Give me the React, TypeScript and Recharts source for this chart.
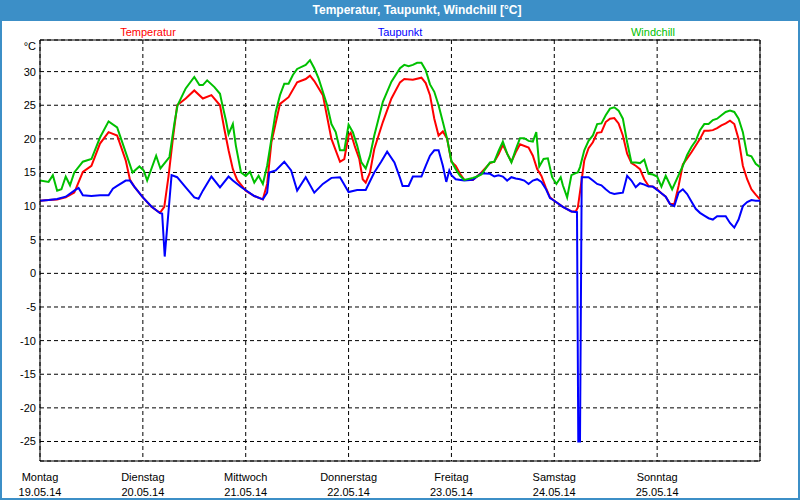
import { LineChart, Line, XAxis, YAxis, CartesianGrid, ReferenceLine } from 'recharts'

const FONT = '"Liberation Sans", Arial, sans-serif'
const FRAME = '#3c8fc7'

// hours since Monday 19.05.14 00:00
const dayHours = [0, 24, 48, 72, 96, 120, 144, 168]
const dayNames = ['Montag', 'Dienstag', 'Mittwoch', 'Donnerstag', 'Freitag', 'Samstag', 'Sonntag']
const dayDates = ['19.05.14', '20.05.14', '21.05.14', '22.05.14', '23.05.14', '24.05.14', '25.05.14']
const tempTicks = [-25, -20, -15, -10, -5, 0, 5, 10, 15, 20, 25, 30]
const yMin = -27.9
const yMax = 34.7

const tempHours = [0, 2, 4, 6, 8, 10, 12, 14, 16, 18, 20, 21, 22, 24, 26, 28, 29, 30, 31, 32, 34, 36, 38, 40, 42, 43, 44, 45, 46, 48, 50, 52, 53, 54, 56, 58, 60, 62, 63, 64, 66, 68, 70, 71, 72, 72.5, 73.5, 74.5, 75.3, 76, 77, 78, 80, 82, 84, 85, 87, 89, 90, 91, 92, 93, 94, 95, 96, 97, 98, 99, 101, 103, 105, 106, 107, 108, 109, 110, 111, 112, 114, 115, 116, 117, 118, 119, 120, 122, 124, 125, 125.5, 126.2, 127, 128, 129, 130, 131, 132, 133, 134, 135, 136, 137, 138, 139, 140, 141, 142, 143, 144, 145, 146, 147, 148, 149, 150, 151, 152, 153, 154, 155, 156, 157, 158, 159, 160, 161, 162, 163, 164, 165, 166, 167, 168]
const tempValues = [10.8, 10.9, 11.0, 11.3, 12.0, 15.1, 16.0, 19.3, 21.0, 20.5, 16.8, 13.9, 12.9, 11.3, 9.9, 9.0, 9.9, 14.5, 20.0, 25.0, 26.0, 27.2, 26.0, 26.5, 25.0, 21.5, 18.3, 15.5, 13.9, 12.3, 11.5, 11.0, 13.3, 19.5, 25.2, 26.2, 28.4, 28.9, 29.4, 28.6, 26.5, 20.0, 16.6, 17.0, 20.5, 20.9, 18.8, 17.0, 14.0, 13.5, 15.0, 18.5, 22.5, 26.0, 28.4, 28.9, 28.8, 29.1, 28.3, 26.5, 23.0, 20.5, 21.1, 20.0, 16.6, 16.0, 14.8, 13.9, 13.9, 15.0, 16.4, 16.6, 17.7, 19.1, 17.8, 16.6, 18.0, 19.2, 18.7, 17.5, 15.5, 14.5, 12.8, 11.3, 10.8, 9.9, 9.2, 9.2, 9.8, 13.0, 16.8, 18.6, 19.5, 20.9, 21.0, 22.5, 23.0, 23.1, 22.3, 20.5, 17.8, 16.4, 16.0, 15.5, 14.0, 13.0, 12.9, 12.5, 11.9, 11.4, 10.3, 10.3, 13.0, 16.2, 17.1, 18.0, 19.0, 20.0, 21.2, 21.2, 21.3, 21.6, 22.0, 22.3, 22.7, 22.2, 20.0, 16.0, 14.0, 12.5, 11.7, 11.0]

const dewHours = [0, 2, 4, 6, 8, 9, 10, 12, 14, 16, 17, 18, 20, 21, 22, 24, 26, 28, 28.5, 29.1, 30.7, 32, 34, 36, 37, 38, 40, 42, 44, 45, 47, 50, 52, 53, 53.5, 55, 57, 58.6, 60, 62, 64, 66, 68, 70, 72, 74, 76, 78, 79.6, 81, 82.7, 84, 84.6, 86, 87, 89, 90, 91, 92, 93, 94, 94.8, 95.5, 96, 97, 99, 101, 102, 103, 105, 106, 107, 108, 109, 110, 111, 112, 113, 114, 115, 116, 117, 118, 119, 120, 122, 124, 125.3, 125.6, 126, 126.4, 127, 128, 129, 130, 131, 132, 133, 134, 135, 136, 137, 138, 139, 140, 141, 142, 143, 144, 145, 146, 147, 148, 149, 150, 151, 152, 153, 154, 155, 156, 157, 158, 159, 160, 161, 162, 163, 164, 165, 166, 167, 168]
const dewValues = [10.8, 10.9, 11.05, 11.4, 12.3, 12.7, 11.6, 11.5, 11.6, 11.6, 12.6, 13.0, 13.8, 13.8, 12.9, 11.3, 9.95, 8.95, 8.9, 2.5, 14.6, 14.3, 12.8, 11.3, 11.1, 12.3, 14.4, 12.8, 14.4, 13.8, 12.8, 11.5, 11.0, 12.0, 15.0, 15.3, 16.6, 15.3, 12.3, 14.3, 12.0, 13.3, 14.2, 14.3, 12.1, 12.4, 12.4, 15.0, 16.6, 18.1, 16.5, 14.2, 13.0, 13.0, 14.4, 14.4, 16.0, 17.5, 18.3, 18.3, 16.0, 13.6, 15.3, 14.6, 14.0, 13.8, 13.9, 14.4, 14.9, 14.8, 14.4, 14.6, 14.4, 13.8, 14.3, 14.1, 14.0, 13.8, 13.3, 13.8, 14.0, 13.6, 12.6, 11.2, 10.8, 9.9, 9.2, 9.1, -25, -25, 14.3, 14.3, 14.3, 13.8, 13.3, 13.1, 12.5, 12.0, 11.8, 11.9, 12.0, 14.5, 13.8, 12.8, 13.4, 13.2, 12.9, 12.9, 12.4, 11.9, 11.4, 10.3, 10.0, 12.0, 12.5, 11.8, 10.7, 9.6, 9.0, 8.6, 8.2, 8.0, 8.5, 8.5, 8.5, 7.5, 6.8, 8.0, 10.0, 10.6, 10.9, 10.8, 10.8]

const chillHours = [0, 2, 3, 4, 5, 6, 7, 8, 10, 12, 14, 16, 18, 20, 21.6, 23.2, 24.2, 25, 27.1, 28.1, 30.2, 31.4, 32.1, 34, 36, 37.2, 38, 39, 40.7, 42, 42.4, 43.4, 44, 45, 45.7, 46.9, 48, 49, 50, 51, 52, 53, 54, 55, 56, 57, 58, 59, 60, 62, 63, 64, 65, 66, 67, 68, 69, 70, 71, 72, 73, 74, 75, 76, 77, 78, 80, 82, 84, 85, 86, 87, 88, 89, 90, 91, 92, 93, 94, 95, 96, 97, 98, 99, 101, 102, 103, 104, 105, 106, 107, 108, 109, 110, 111, 112, 113, 114, 115, 115.8, 116.5, 117.5, 118.5, 119.5, 120.5, 121.5, 122, 123, 124, 125, 125.5, 126, 127, 128, 129, 130, 131, 132, 133, 134, 135, 136, 137, 138, 139, 140, 141, 142, 143, 144, 145, 146, 147.5, 149, 150, 151, 152, 153, 154, 155, 156, 157, 158, 159, 160, 161, 162, 163, 164, 165, 166, 167, 168]
const chillValues = [13.8, 13.6, 14.6, 12.3, 12.5, 14.4, 13.1, 15.0, 16.6, 17.0, 20.2, 22.6, 21.7, 18.0, 15.0, 15.9, 15.3, 13.8, 17.5, 15.6, 17.3, 22.5, 25.0, 27.5, 29.2, 28.0, 28.0, 28.7, 27.7, 26.7, 25.5, 22.7, 20.7, 22.2, 19.0, 15.0, 14.5, 15.1, 13.5, 14.5, 13.3, 16.0, 20.0, 24.0, 26.5, 28.2, 28.2, 29.5, 30.4, 31.0, 31.7, 30.5, 29.0, 27.0, 25.0, 22.2, 21.0, 18.3, 18.3, 22.1, 21.0, 19.0, 16.5, 15.6, 17.5, 20.5, 25.5, 28.5, 30.5, 31.0, 30.8, 31.0, 31.3, 31.3, 30.2, 28.1, 27.0, 25.0, 22.5, 20.0, 16.7, 15.5, 14.5, 13.9, 14.2, 14.4, 14.7, 15.6, 16.5, 16.6, 18.2, 19.6, 17.8, 16.5, 18.4, 20.1, 20.1, 19.7, 19.6, 21.0, 15.9, 17.0, 17.1, 14.3, 13.3, 14.3, 13.1, 11.3, 14.6, 14.9, 15.0, 15.8, 18.3, 19.7, 20.5, 22.2, 22.3, 23.5, 24.5, 24.7, 24.2, 23.0, 19.5, 16.5, 16.5, 16.4, 16.9, 14.8, 14.7, 14.4, 12.9, 14.5, 12.5, 14.6, 16.0, 17.6, 18.8, 19.7, 21.3, 22.2, 22.2, 22.8, 23.0, 23.5, 24.0, 24.2, 24.0, 23.0, 21.0, 17.6, 17.4, 16.3, 15.8]

const zip = (hours: number[], values: number[]) => hours.map((t, i) => ({ t, v: values[i] }))
const tempData = zip(tempHours, tempValues)
const dewData = zip(dewHours, dewValues)
const chillData = zip(chillHours, chillValues)

function DayTick(props: any) {
  const { x, y, payload } = props
  const i = dayHours.indexOf(payload.value)
  if (i < 0 || i >= dayNames.length) return <g />
  return (
    <g>
      <text x={x} y={y + 18} textAnchor="middle" fontSize={11} fontFamily={FONT} fill="#000">{dayNames[i]}</text>
      <text x={x} y={y + 33} textAnchor="middle" fontSize={11} fontFamily={FONT} fill="#000">{dayDates[i]}</text>
    </g>
  )
}

const legendStyle = (color: string, center: number): React.CSSProperties => ({
  position: 'absolute',
  top: 25,
  left: center - 60,
  width: 120,
  textAlign: 'center',
  fontSize: 11,
  fontFamily: FONT,
  color,
  lineHeight: '14px',
})

export default function App() {
  return (
    <div style={{ position: 'fixed', top: 0, left: 0, width: 800, height: 500, background: '#fff', overflow: 'hidden' }}>
      <LineChart width={800} height={500} margin={{ top: 40, right: 40, bottom: 0, left: 0 }}>
        <CartesianGrid stroke="#000" strokeDasharray="4 3" />
        <XAxis
          type="number"
          dataKey="t"
          domain={[0, 168]}
          ticks={dayHours}
          tick={<DayTick />}
          tickLine={false}
          tickSize={0}
          axisLine={{ stroke: '#000' }}
          height={39}
          allowDataOverflow
        />
        <YAxis
          type="number"
          domain={[yMin, yMax]}
          ticks={tempTicks}
          width={40}
          tickLine={false}
          tickSize={0}
          tickMargin={4}
          axisLine={{ stroke: '#000' }}
          tick={{ fontSize: 11, fontFamily: FONT, fill: '#000' }}
          allowDataOverflow
        />
        <ReferenceLine y={yMax} stroke="#000" />
        <ReferenceLine x={168} stroke="#000" />
        <Line data={tempData} dataKey="v" type="linear" stroke="#ff0000" strokeWidth={2} dot={false} isAnimationActive={false} />
        <Line data={dewData} dataKey="v" type="linear" stroke="#0000ff" strokeWidth={2} dot={false} isAnimationActive={false} />
        <Line data={chillData} dataKey="v" type="linear" stroke="#00c000" strokeWidth={2} dot={false} isAnimationActive={false} />
      </LineChart>

      <div style={{ position: 'absolute', top: 0, left: 0, width: 800, height: 21, background: FRAME }} />
      <div
        style={{
          position: 'absolute',
          top: 0,
          left: 417,
          transform: 'translateX(-50%)',
          whiteSpace: 'nowrap',
          lineHeight: '21px',
          fontSize: 12,
          fontWeight: 'bold',
          fontFamily: FONT,
          color: '#fff',
        }}
      >
        Temperatur, Taupunkt, Windchill [°C]
      </div>
      <div
        style={{
          position: 'absolute',
          top: 0,
          left: 0,
          width: 800,
          height: 500,
          boxSizing: 'border-box',
          borderLeft: `2px solid ${FRAME}`,
          borderRight: `2px solid ${FRAME}`,
          borderBottom: `2px solid ${FRAME}`,
          pointerEvents: 'none',
        }}
      />
      <div style={legendStyle('#ff0000', 148)}>Temperatur</div>
      <div style={legendStyle('#0000ff', 400)}>Taupunkt</div>
      <div style={legendStyle('#00c000', 653)}>Windchill</div>
      <div style={{ position: 'absolute', top: 39, left: 0, width: 36, textAlign: 'right', fontSize: 11, fontFamily: FONT, color: '#000', lineHeight: '14px' }}>
        °C
      </div>
    </div>
  )
}
